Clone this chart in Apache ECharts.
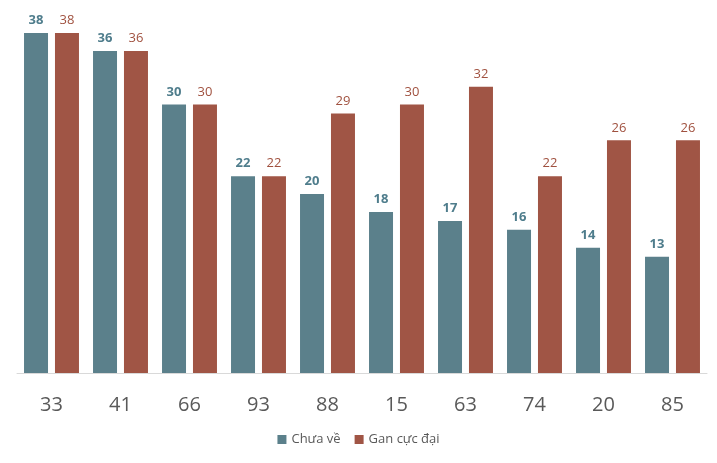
<!DOCTYPE html>
<html>
<head>
<meta charset="utf-8">
<script src="https://cdn.jsdelivr.net/npm/echarts@6/dist/echarts.min.js"></script>
<style>html,body{margin:0;padding:0;background:#fff}#c{width:717px;height:463px}</style>
</head>
<body>
<div id="c"></div>
<script>
const categories = ['33','41','66','93','88','15','63','74','20','85'];
const chuaVe = [38,36,30,22,20,18,17,16,14,13];
const ganCucDai = [38,36,30,22,29,30,32,22,26,26];
const seriesNames = ['Chưa về','Gan cực đại'];

const chart = echarts.init(document.getElementById('c'));
const font = '"Open Sans", "Noto Sans", sans-serif';
chart.setOption({
  animation: false,
  grid: {left: 17, right: 10, top: 33, bottom: 90, containLabel: false},
  legend: {
    bottom: 12, left: 'center', itemWidth: 9, itemHeight: 9, itemGap: 14,
    icon: 'rect',
    textStyle: {fontFamily: font, fontSize: 13, color: '#595959'},
    data: seriesNames
  },
  xAxis: {
    type: 'category', data: categories,
    axisLine: {lineStyle: {color: '#d9d9d9', width: 1}},
    axisTick: {show: false},
    axisLabel: {fontFamily: font, fontSize: 20, color: '#595959', margin: 22}
  },
  yAxis: {type: 'value', min: 0, max: 38, show: false, splitLine: {show: false}},
  series: [
    {
      name: seriesNames[0], type: 'bar', data: chuaVe,
      barWidth: 24, barGap: '29%',
      itemStyle: {color: '#5b808b'},
      label: {show: true, position: 'top', distance: 6, fontFamily: font, fontSize: 13, fontWeight: 'bold', color: '#4f7d8c'}
    },
    {
      name: seriesNames[1], type: 'bar', data: ganCucDai,
      barWidth: 24,
      itemStyle: {color: '#a05545'},
      label: {show: true, position: 'top', distance: 6, fontFamily: font, fontSize: 13, color: '#a0513f'}
    }
  ]
});
</script>
</body>
</html>
